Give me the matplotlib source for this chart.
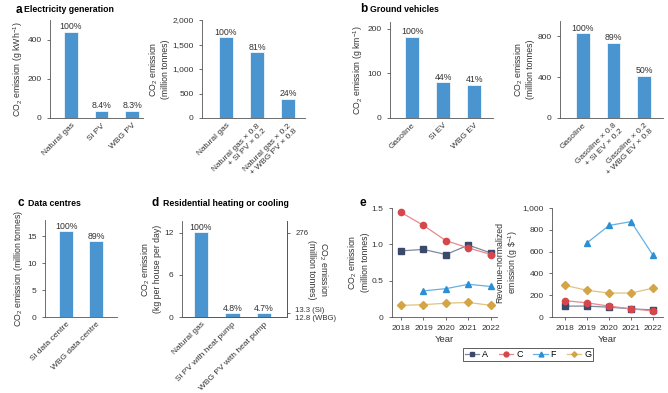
import matplotlib
matplotlib.use("Agg")
import matplotlib.pyplot as plt
from matplotlib.lines import Line2D

# ---------------- data ----------------
a1_cats = ["Natural gas", "Si PV", "WBG PV"]
a1_vals = [441, 37, 36.6]
a1_pct = ["100%", "8.4%", "8.3%"]

a2_cats = ["Natural gas", "Natural gas × 0.8\n+ Si PV × 0.2", "Natural gas × 0.2\n+ WBG PV × 0.8"]
a2_vals = [1650, 1337, 396]
a2_pct = ["100%", "81%", "24%"]

b1_cats = ["Gasoline", "Si EV", "WBG EV"]
b1_vals = [182, 80, 75]
b1_pct = ["100%", "44%", "41%"]

b2_cats = ["Gasoline", "Gasoline × 0.8\n+ Si EV × 0.2", "Gasoline × 0.2\n+ WBG EV × 0.8"]
b2_vals = [828, 737, 414]
b2_pct = ["100%", "89%", "50%"]

c_cats = ["Si data centre", "WBG data centre"]
c_vals = [15.9, 14.1]
c_pct = ["100%", "89%"]

d_cats = ["Natural gas", "Si PV with heat pump", "WBG PV with heat pump"]
d_vals = [12.1, 0.58, 0.57]
d_pct = ["100%", "4.8%", "4.7%"]
d_right_ticks = [12.0, 0.57]
d_right_labels = ["276", "13.3 (Si)\n12.8 (WBG)"]

years = [2018, 2019, 2020, 2021, 2022]
years_f = [2019, 2020, 2021, 2022]
e1_A = [0.91, 0.93, 0.86, 0.99, 0.88]
e1_C = [1.44, 1.26, 1.05, 0.95, 0.86]
e1_F = [0.36, 0.39, 0.45, 0.42]
e1_G = [0.16, 0.17, 0.19, 0.20, 0.16]

e2_A = [100, 100, 90, 75, 65]
e2_C = [150, 130, 100, 75, 55]
e2_F = [680, 840, 875, 565]
e2_G = [290, 245, 220, 220, 265]

# ---------------- style ----------------
BAR = "#4a94cf"
TXT = "#333333"
FS = 6
plt.rcParams["font.family"] = ["Liberation Sans", "DejaVu Sans"]
plt.rcParams["font.size"] = FS
plt.rcParams["axes.edgecolor"] = "#555555"
plt.rcParams["axes.linewidth"] = 0.6
plt.rcParams["xtick.color"] = "#555555"
plt.rcParams["ytick.color"] = "#555555"
plt.rcParams["xtick.labelcolor"] = TXT
plt.rcParams["ytick.labelcolor"] = TXT
plt.rcParams["xtick.major.width"] = 0.6
plt.rcParams["ytick.major.width"] = 0.6
plt.rcParams["xtick.major.size"] = 2.5
plt.rcParams["ytick.major.size"] = 2.5
plt.rcParams["xtick.labelsize"] = FS
plt.rcParams["ytick.labelsize"] = FS
plt.rcParams["mathtext.fontset"] = "custom"
plt.rcParams["mathtext.rm"] = "Liberation Sans"
plt.rcParams["mathtext.default"] = "regular"

W, H = 668, 393
fig = plt.figure(figsize=(W / 100, H / 100), dpi=100)


def ax_px(x0, y0, x1, y1):
    return fig.add_axes([x0 / W, 1 - y1 / H, (x1 - x0) / W, (y1 - y0) / H])


def style(ax):
    ax.spines["top"].set_visible(False)
    ax.spines["right"].set_visible(False)


def bars(ax, cats, vals, pcts, xlim, ylim, yticks, yticklabels, ylabel, width=0.45):
    style(ax)
    x = list(range(len(cats)))
    ax.bar(x, vals, width=width, color=BAR, edgecolor="white", linewidth=0.5)
    for xi, v, p in zip(x, vals, pcts):
        ax.text(xi, v + ylim[1] * 0.004, p, ha="center", va="bottom", fontsize=FS + 0.3, color=TXT)
    ax.set_xlim(*xlim)
    ax.set_ylim(*ylim)
    ax.set_yticks(yticks)
    ax.set_yticklabels(yticklabels)
    ax.set_xticks(x)
    ax.set_xticklabels(cats, rotation=45, ha="right", rotation_mode="anchor",
                       multialignment="right")
    ax.tick_params(axis="x", length=0, pad=3)
    ax.set_ylabel(ylabel, fontsize=FS + 0.3, color=TXT, labelpad=1.5)


def title(x, y, letter, text, dx=10):
    fig.text(x / W, 1 - y / H, letter, fontsize=8.5, fontweight="bold", va="center", ha="left")
    fig.text((x + dx) / W, 1 - y / H, text, fontsize=6.3, fontweight="bold", va="center", ha="left")


# panel a
ax = ax_px(50, 20, 143, 118)
bars(ax, a1_cats, a1_vals, a1_pct, (-0.68, 2.35), (0, 500), [0, 200, 400], ["0", "200", "400"],
     "CO$_2$ emission (g kWh$^{-1}$)")
ax = ax_px(202, 20, 305, 118)
bars(ax, a2_cats, a2_vals, a2_pct, (-0.77, 2.55), (0, 2000), [0, 500, 1000, 1500, 2000],
     ["0", "500", "1,000", "1,500", "2,000"], "CO$_2$ emission\n(million tonnes)")
title(16, 10, "a", "Electricity generation", dx=8)

# panel b
ax = ax_px(390, 22, 493, 118)
bars(ax, b1_cats, b1_vals, b1_pct, (-0.71, 2.61), (0, 215), [0, 100, 200], ["0", "100", "200"],
     "CO$_2$ emission (g km$^{-1}$)")
ax = ax_px(560, 21, 663, 118)
bars(ax, b2_cats, b2_vals, b2_pct, (-0.75, 2.62), (0, 950), [0, 400, 800], ["0", "400", "800"],
     "CO$_2$ emission\n(million tonnes)")
title(360, 9, "b", "Ground vehicles")

# panel c
ax = ax_px(45, 220, 117, 317)
bars(ax, c_cats, c_vals, c_pct, (-0.7, 1.7), (0, 18), [0, 5, 10, 15], ["0", "5", "10", "15"],
     "CO$_2$ emission (million tonnes)", width=0.47)
title(18, 203, "c", "Data centres")

# panel d
ax = ax_px(182, 221, 287, 317)
bars(ax, d_cats, d_vals, d_pct, (-0.6, 2.73), (0, 13.7), [0, 6, 12], ["0", "6", "12"],
     "CO$_2$ emission\n(kg per house per day)")
ax.spines["right"].set_visible(True)
axr = ax.twinx()
axr.set_ylim(0, 13.7)
axr.spines["top"].set_visible(False)
axr.spines["left"].set_visible(False)
axr.set_yticks(d_right_ticks)
axr.set_yticklabels(d_right_labels, fontsize=5.6)
fig.text(318 / W, 1 - 270 / H, "CO$_2$ emission\n(million tonnes)", rotation=-90,
         ha="center", va="center", fontsize=FS + 0.3, color=TXT, multialignment="center")
title(152, 203, "d", "Residential heating or cooling", dx=11)

# panel e
col = {"A": "#3b4a6b", "C": "#d6474b", "F": "#2c8fd3", "G": "#d4a547"}
lcol = {"A": "#7d889e", "C": "#e58a8d", "F": "#66b0e3", "G": "#e2c27f"}
mk = {"A": "s", "C": "o", "F": "^", "G": "D"}
ms = {"A": 4, "C": 4.5, "F": 4.5, "G": 3.8}


def lineplot(ax, series):
    style(ax)
    for key, xs, ys in series:
        ax.plot(xs, ys, color=lcol[key], lw=0.9, marker=mk[key], ms=ms[key],
                markerfacecolor=col[key], markeredgecolor=col[key])
    ax.set_xticks(years)
    ax.set_xlabel("Year", fontsize=FS + 0.8, color=TXT, labelpad=2)


ax = ax_px(392, 208, 497, 317)
lineplot(ax, [("A", years, e1_A), ("C", years, e1_C), ("F", years_f, e1_F), ("G", years, e1_G)])
ax.set_xlim(2017.6, 2022.27)
ax.set_ylim(0, 1.5)
ax.set_yticks([0, 0.5, 1.0, 1.5])
ax.set_yticklabels(["0", "0.5", "1.0", "1.5"])
ax.set_ylabel("CO$_2$ emission\n(million tonnes)", fontsize=FS + 0.3, color=TXT, labelpad=1.5)

ax = ax_px(552, 208, 663, 317)
lineplot(ax, [("A", years, e2_A), ("C", years, e2_C), ("F", years_f, e2_F), ("G", years, e2_G)])
ax.set_xlim(2017.41, 2022.45)
ax.set_ylim(0, 1000)
ax.set_yticks([0, 200, 400, 600, 800, 1000])
ax.set_yticklabels(["0", "200", "400", "600", "800", "1,000"])
ax.set_ylabel("Revenue-normalized\nemission (g \\$$^{-1}$)", fontsize=FS + 0.3, color=TXT, labelpad=1.5)
fig.text(360 / W, 1 - 203 / H, "e", fontsize=8.5, fontweight="bold", va="center", ha="left")

handles = [Line2D([], [], color=lcol[k], lw=0.9, marker=mk[k], ms=ms[k] - 1.0,
                  markerfacecolor=col[k], markeredgecolor=col[k]) for k in ["A", "C", "F", "G"]]
leg = fig.legend(handles, ["A", "C", "F", "G"], ncol=4, loc="center",
                 bbox_to_anchor=(528 / W, 1 - 354.5 / H), frameon=True, fancybox=False,
                 fontsize=FS + 0.5, handlelength=1.6, columnspacing=1.2, handletextpad=0.3,
                 borderpad=0.25, borderaxespad=0, edgecolor="#333333")
leg.get_frame().set_linewidth(0.7)

fig.savefig("out.png", dpi=100)
